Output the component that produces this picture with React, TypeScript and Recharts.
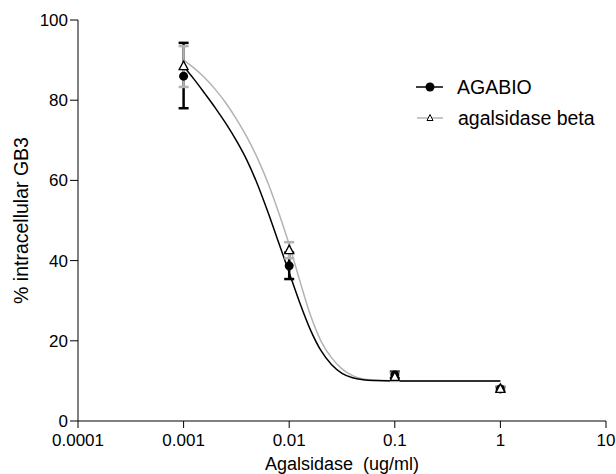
import {
  ComposedChart,
  Line,
  Scatter,
  ErrorBar,
  XAxis,
  YAxis,
} from "recharts";

type Pt = { x: number; y: number; err?: number[] };

// measured doses (ug/ml)
const doses = [0.001, 0.01, 0.1, 1];

// AGABIO mean and error (lower, upper)
const agabioMean = [86, 38.7, 11.5, 8];
const agabioErr = [
  [8, 8.3],
  [3.3, 3.3],
  [0.8, 0.8],
  [0.5, 0.5],
];

// agalsidase beta mean and error
const betaMean = [88.5, 42.6, 11, 8];
const betaErr = [
  [5.2, 5],
  [2, 2],
  [1, 1],
  [0.5, 0.5],
];

// fitted curves: log10 dose -> %
const curveLogX = [
  -3, -2.9, -2.8, -2.7, -2.6, -2.5, -2.4, -2.3, -2.2, -2.1, -2, -1.9, -1.8,
  -1.7, -1.6, -1.5, -1.4, -1.3, -1.2, -1, -0.5, 0,
];
const agabioCurve = [
  88.4, 85.2, 81.7, 78.1, 74.2, 69.9, 65, 59, 52, 44.5, 37, 29.5, 22.8, 17.6,
  14.1, 11.9, 10.8, 10.3, 10.1, 10, 10, 10,
];
const betaCurve = [
  90, 88, 85.6, 82.7, 79.3, 75.3, 70.8, 65.5, 59.3, 52, 44, 35, 26.5, 20, 15.8,
  13, 11.3, 10.5, 10.2, 10, 10, 10,
];

const xTicks = [0.0001, 0.001, 0.01, 0.1, 1, 10];
const yTicks = [0, 20, 40, 60, 80, 100];

const FONT = "'Liberation Sans', Arial, sans-serif";
const GRAY = "#b3b3b3";

const pts = (means: number[], errs: number[][]): Pt[] =>
  doses.map((d, i) => ({ x: d, y: means[i], err: errs[i] }));
const curve = (vals: number[]): Pt[] =>
  curveLogX.map((l, i) => ({ x: Math.pow(10, l), y: vals[i] }));

const agabioPts = pts(agabioMean, agabioErr);
const betaPts = pts(betaMean, betaErr);

const Dot = (p: any) => <circle cx={p.cx} cy={p.cy} r={4.5} fill="#000" />;

const Tri = (p: any) => (
  <path
    d={`M${p.cx},${p.cy - 5} L${p.cx + 4.5},${p.cy + 3.5} L${p.cx - 4.5},${p.cy + 3.5} Z`}
    fill="#fff"
    stroke="#000"
    strokeWidth={1.3}
  />
);

const rowStyle = {
  position: "absolute" as const,
  left: 416,
  height: 24,
  display: "flex",
  alignItems: "center",
  whiteSpace: "nowrap" as const,
};

const LegendBox = () => (
  <div style={{ fontFamily: FONT, fontSize: 19.5, color: "#000" }}>
    <div style={{ ...rowStyle, top: 75 }}>
      <svg width={41} height={12}>
        <line x1={0} y1={6} x2={27} y2={6} stroke="#000" strokeWidth={1.5} />
        <circle cx={14} cy={6} r={4.5} fill="#000" />
      </svg>
      <span>AGABIO</span>
    </div>
    <div style={{ ...rowStyle, top: 106 }}>
      <svg width={42} height={12}>
        <line x1={1} y1={6} x2={27} y2={6} stroke={GRAY} strokeWidth={1.5} />
        <path d="M14,2.5 L17,8.5 L11,8.5 Z" fill="#fff" stroke="#000" strokeWidth={1} />
      </svg>
      <span>agalsidase beta</span>
    </div>
  </div>
);

const App = () => {
  return (
    <div style={{ position: "absolute", left: 0, top: 0, width: 616, height: 474, background: "#fff" }}>
      <ComposedChart
        width={616}
        height={474}
        margin={{ top: 20, right: 10, bottom: 0, left: 0 }}
      >
        <XAxis
          dataKey="x"
          type="number"
          scale="log"
          domain={[0.0001, 10]}
          ticks={xTicks}
          tickFormatter={(v: number) => String(v)}
          allowDataOverflow
          height={53}
          stroke="#000"
          tickSize={7}
          tick={{ fill: "#000", fontSize: 17, fontFamily: FONT }}
          tickMargin={6}
          label={{
            value: "Agalsidase\u00a0\u00a0(ug/ml)",
            position: "insideBottom",
            offset: 4,
            style: { fill: "#000", fontSize: 18, fontFamily: FONT },
          }}
        />
        <YAxis
          type="number"
          domain={[0, 100]}
          ticks={yTicks}
          width={78}
          stroke="#000"
          tickSize={8}
          tick={{ fill: "#000", fontSize: 17, fontFamily: FONT }}
          tickMargin={2}
          label={{
            value: "% intracellular GB3",
            angle: -90,
            position: "insideLeft",
            offset: 21,
            style: { textAnchor: "middle", fill: "#000", fontSize: 19.5, fontFamily: FONT },
          }}
        />
        <Line
          data={curve(betaCurve)}
          dataKey="y"
          type="monotone"
          stroke={GRAY}
          strokeWidth={1.5}
          dot={false}
          activeDot={false}
          isAnimationActive={false}
          legendType="none"
        />
        <Line
          data={curve(agabioCurve)}
          dataKey="y"
          type="monotone"
          stroke="#000"
          strokeWidth={1.5}
          dot={false}
          activeDot={false}
          isAnimationActive={false}
          legendType="none"
        />
        <Scatter data={agabioPts} dataKey="y" shape={Dot} isAnimationActive={false}>
          <ErrorBar dataKey="err" direction="y" width={5} stroke="#000" strokeWidth={2.5} />
        </Scatter>
        <Scatter data={betaPts} dataKey="y" shape={Tri} isAnimationActive={false}>
          <ErrorBar dataKey="err" direction="y" width={5} stroke={GRAY} strokeWidth={2.5} />
        </Scatter>
      </ComposedChart>
      <LegendBox />
    </div>
  );
};

export default App;
